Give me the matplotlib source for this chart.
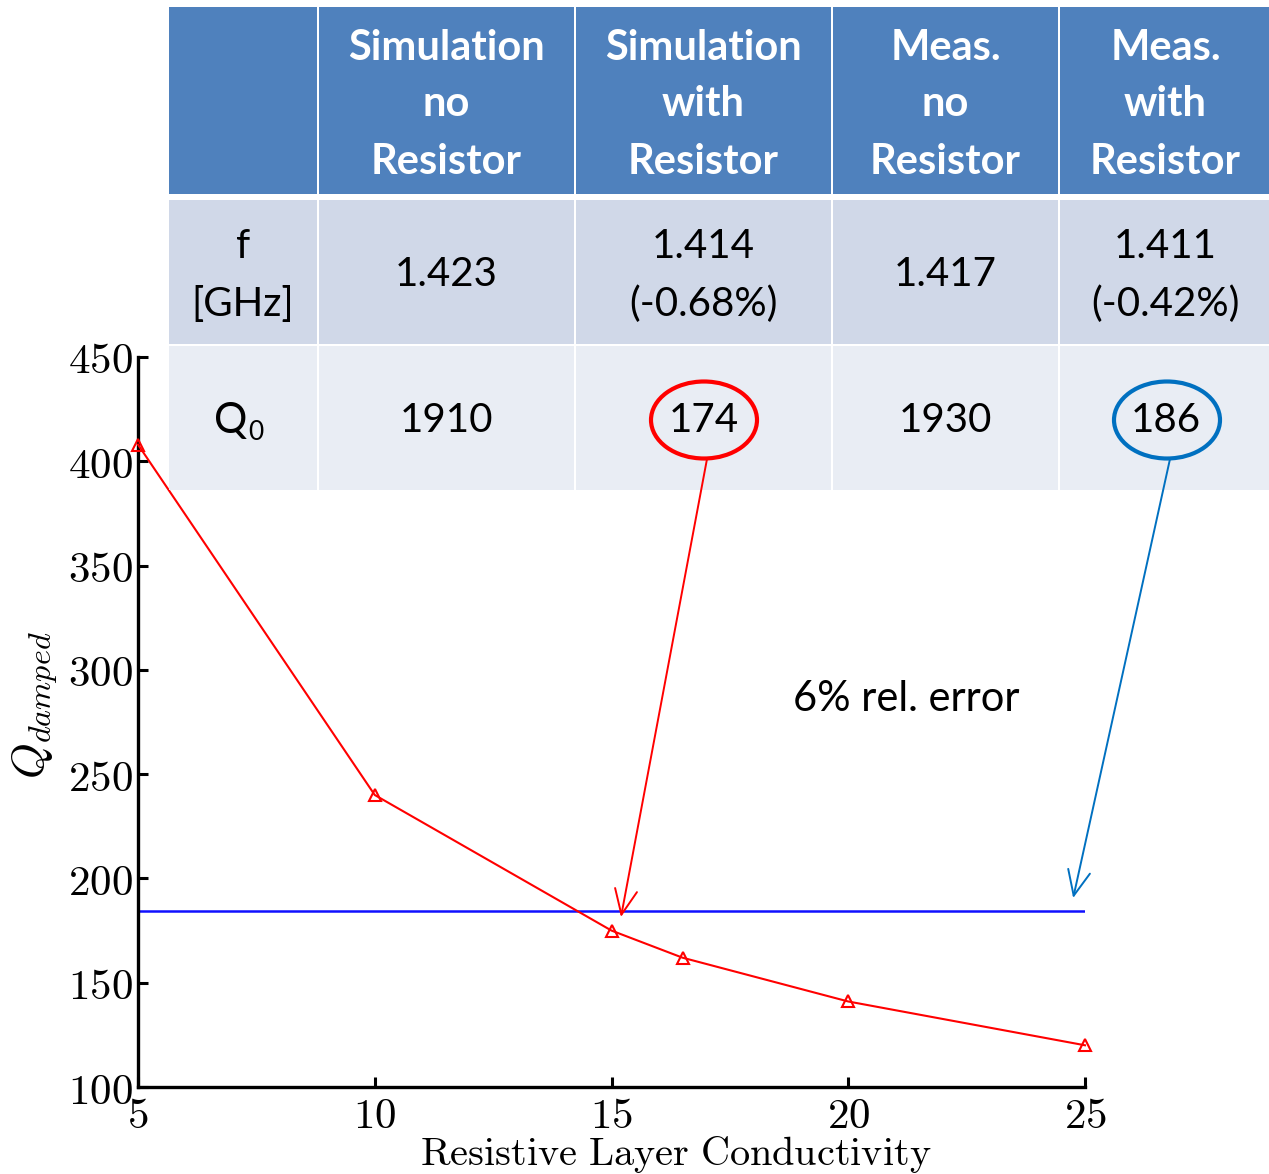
import numpy as np
import matplotlib
matplotlib.use('Agg')
import matplotlib.pyplot as plt
from matplotlib.patches import Rectangle, Ellipse
from matplotlib.ticker import FuncFormatter

# simulated damped Q vs. conductivity of the resistive layer
cond = [5, 10, 15, 16.5, 20, 25]
q_damped = [408, 240, 175, 162, 141, 120]
q_measured = 184.5  # horizontal reference line

# table contents
col_headers = ['', 'Simulation\nno\nResistor', 'Simulation\nwith\nResistor',
               'Meas.\nno\nResistor', 'Meas.\nwith\nResistor']
freq_row = ['f\n[GHz]', '1.423', '1.414\n(-0.68%)', '1.417', '1.411\n(-0.42%)']
q0_row = ['Q', '1910', '174', '1930', '186']

# where the arrows from the circled Q0 values point (data coords)
red_tip = (15.2, 181.5)
blue_tip = (24.75, 190.6)

plt.rcParams['mathtext.fontset'] = 'cm'
W, H = 1269, 1174
fig = plt.figure(figsize=(W / 100, H / 100), dpi=100)

ax = fig.add_axes([138 / W, 1 - 1087 / H, 947 / W, 730 / H])
ax.plot(cond, q_damped, color='red', lw=1.5, marker='^', ms=8,
        mfc='none', mec='red', mew=1.5, clip_on=False, zorder=3)
ax.plot([cond[0], cond[-1]], [q_measured, q_measured], color='#1010ff', lw=1.8)
ax.set_xlim(5, 25)
ax.set_ylim(100, 450)
ax.set_xticks([5, 10, 15, 20, 25])
ax.set_yticks(np.arange(100, 451, 50))
fmt = FuncFormatter(lambda v, p: f'${v:g}$')
ax.xaxis.set_major_formatter(fmt)
ax.yaxis.set_major_formatter(fmt)
ax.tick_params(direction='in', length=7, width=2.2, labelsize=31, pad=4)
ax.tick_params(axis='x', pad=6)
for s in ['top', 'right']:
    ax.spines[s].set_visible(False)
for s in ['left', 'bottom']:
    ax.spines[s].set_linewidth(2.4)
ax.set_xlabel(r'$\mathrm{Resistive\ Layer\ Conductivity}$', fontsize=29)
ax.xaxis.set_label_coords((676 - 138) / 947, (1087 - 1134) / 730)
ax.set_ylabel(r'$Q_{damped}$', fontsize=33)
ax.yaxis.set_label_coords((60 - 138) / 947, (1087 - 705) / 730)

# overlay in pixel coordinates for the table
ov = fig.add_axes([0, 0, 1, 1], zorder=5)
ov.set_xlim(0, W)
ov.set_ylim(H, 0)
ov.axis('off')
ov.patch.set_visible(False)

col_edges = [168, 318, 575, 832, 1059, 1272]
row_edges = [(7, 194), (200, 344), (346, 490)]
row_colors = ['#4f81bd', '#d0d8e8', '#e9edf4']
fonts = ['Lato', 'DejaVu Sans']

def put_lines(txt, cx, cy, step, **kw):
    lines = txt.split('\n')
    n = len(lines)
    for i, line in enumerate(lines):
        ov.text(cx, cy + (i - (n - 1) / 2) * step, line, ha='center', va='center',
                family=fonts, **kw)

rows = [col_headers, freq_row, q0_row]
for r, (y0, y1) in enumerate(row_edges):
    for c in range(5):
        x0, x1 = col_edges[c], col_edges[c + 1]
        ov.add_patch(Rectangle((x0 + 1, y0), x1 - x0 - 2, y1 - y0,
                               facecolor=row_colors[r], edgecolor='none'))
        cx, cy = (x0 + x1) / 2, (y0 + y1) / 2
        txt = rows[r][c]
        if r == 0:
            put_lines(txt, cx, cy + 4, 57, color='white', fontsize=30, fontweight='bold')
        elif r == 2 and c == 0:
            ov.text(cx + 4, cy + 3, 'Q', ha='right', va='center', family=fonts, fontsize=30)
            ov.text(cx + 5, cy + 15, '0', ha='left', va='center', family=fonts, fontsize=19)
        else:
            put_lines(txt, cx, cy + 3, 58, color='black', fontsize=29)

# circles around the two Q0 values and arrows to the plot
for cx, col, tip in [(704, 'red', red_tip), (1167, '#0070c0', blue_tip)]:
    ov.add_patch(Ellipse((cx, 420), 106, 77, fill=False, edgecolor=col, lw=3))
    ov.annotate('', xy=tip, xycoords=ax.transData, xytext=(cx + 3, 459),
                textcoords='data',
                arrowprops=dict(arrowstyle='->, head_length=0.45, head_width=0.2',
                                color=col, lw=1.4, mutation_scale=40,
                                shrinkA=0, shrinkB=0))

ov.text(906, 699, '6% rel. error', ha='center', va='center', family=fonts, fontsize=30)

fig.savefig('out.png', dpi=100)
